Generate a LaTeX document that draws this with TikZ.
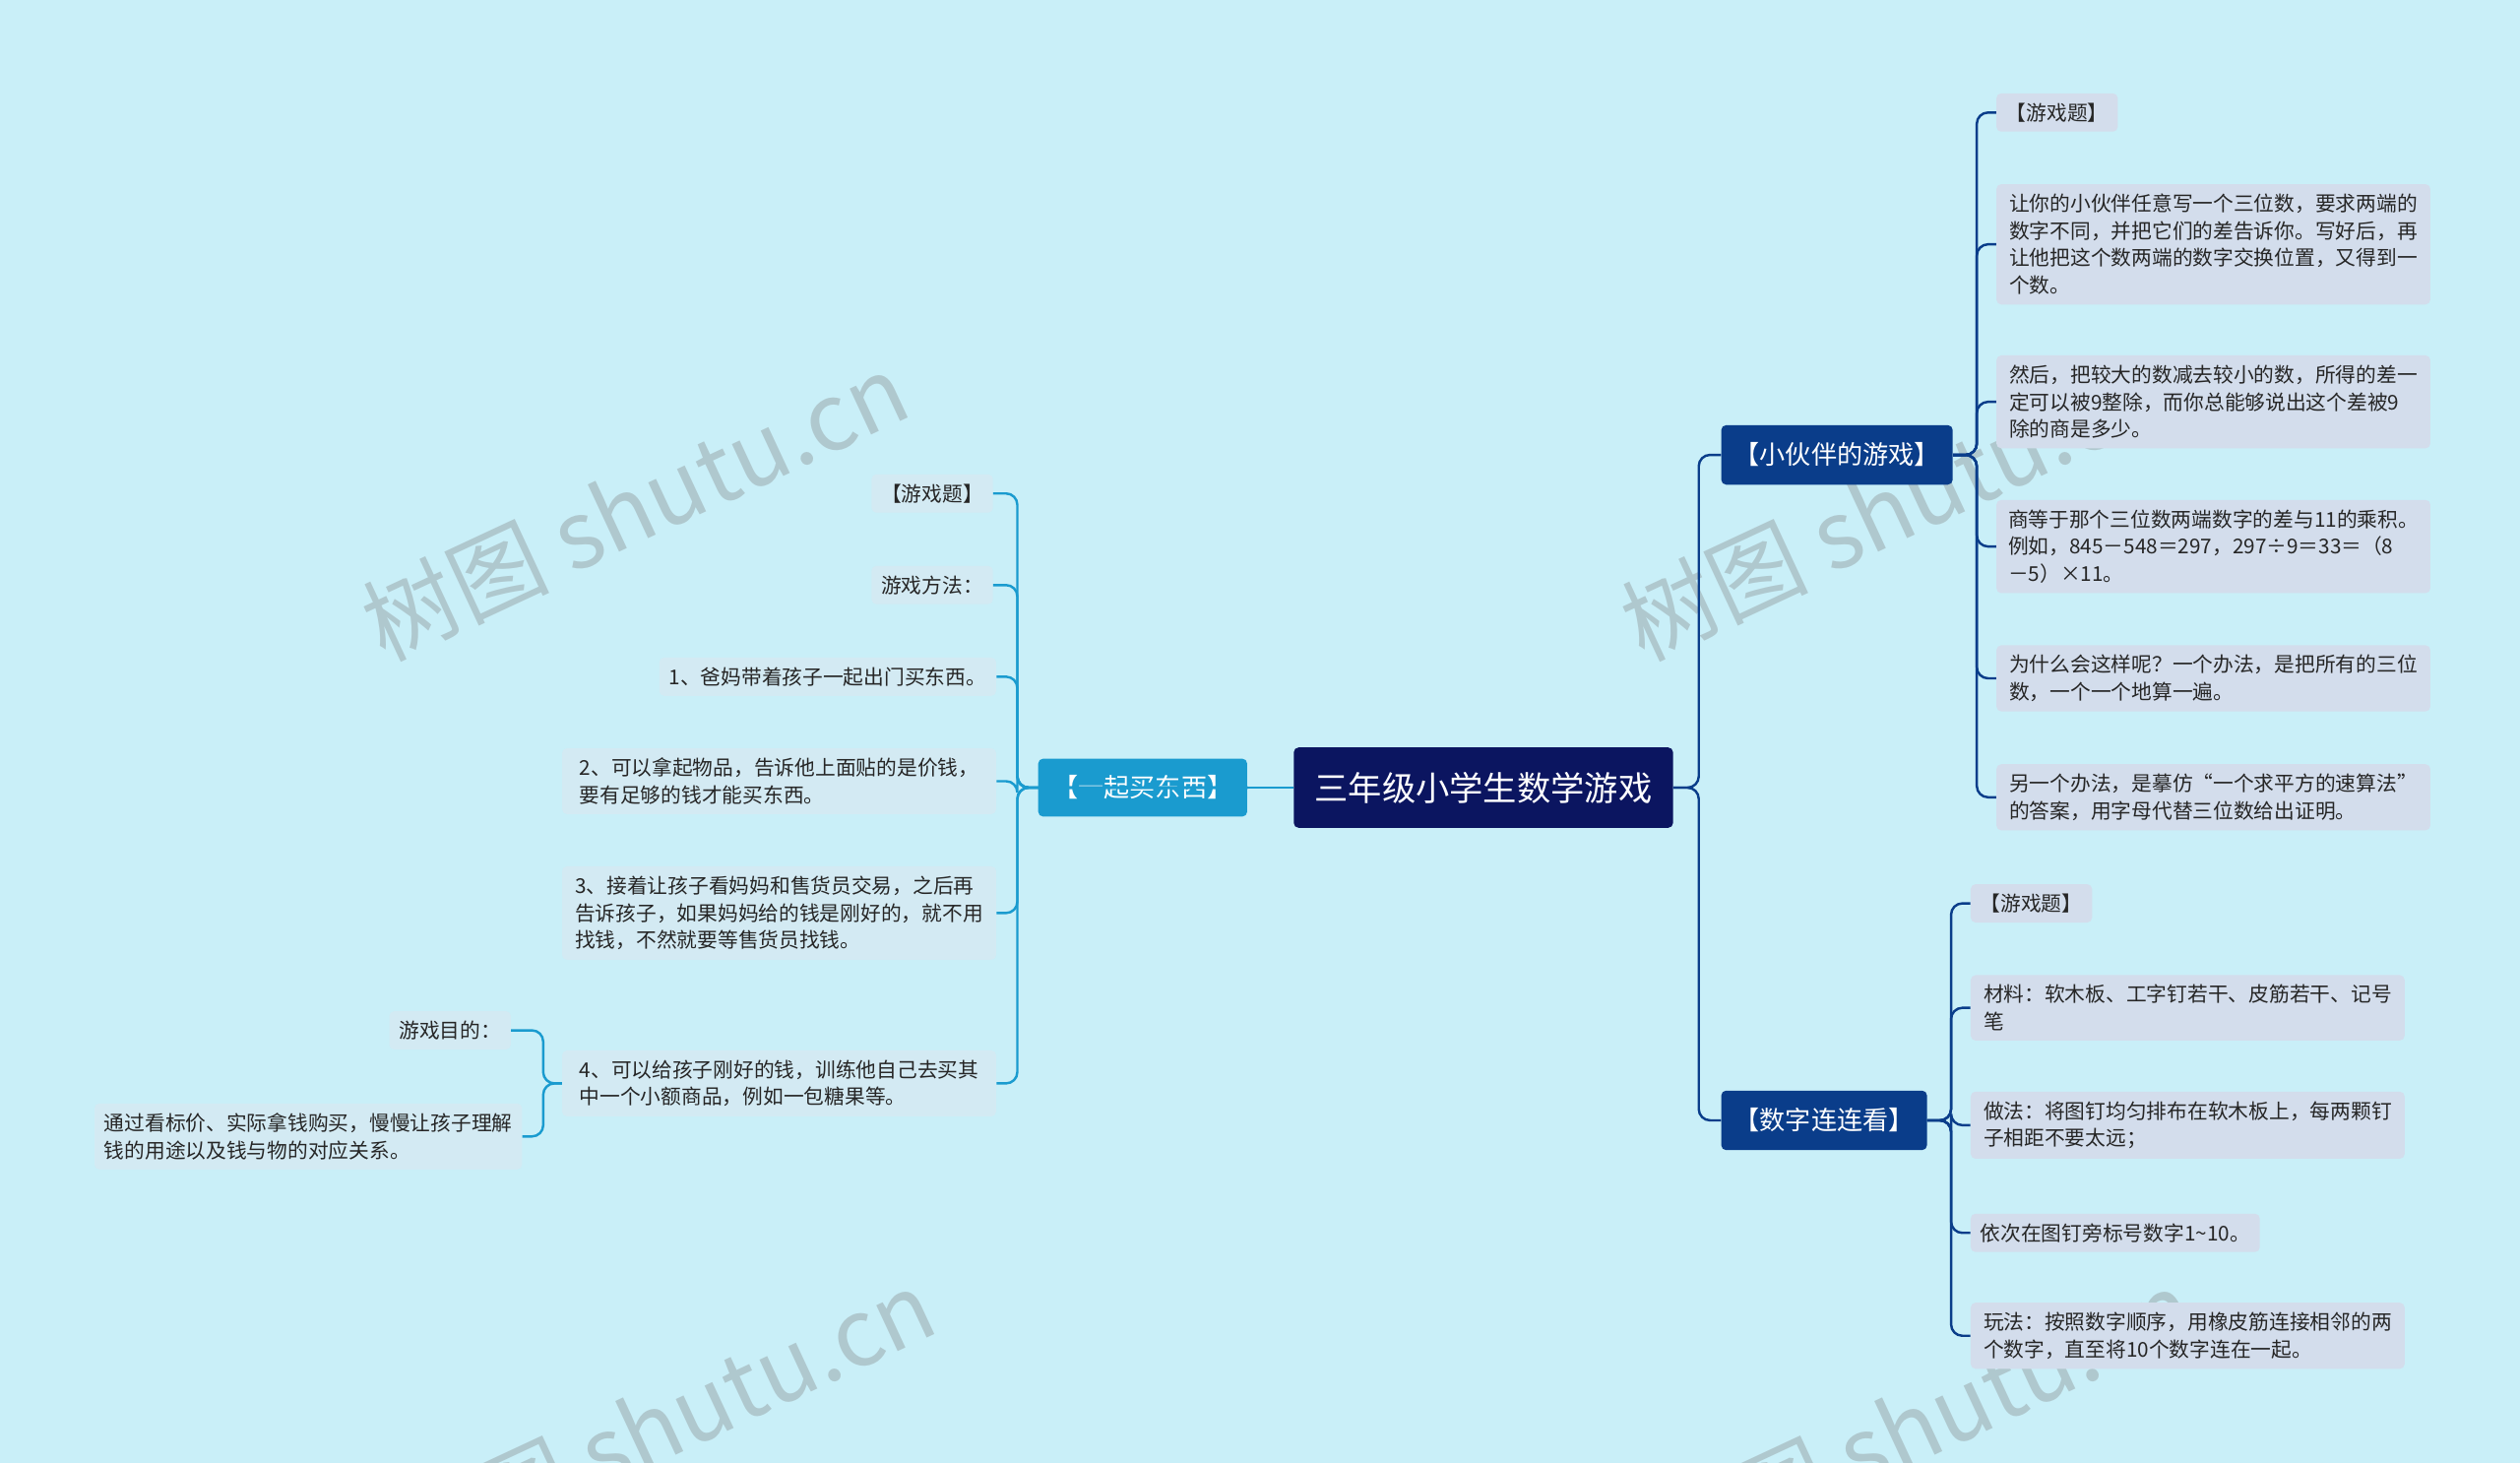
\documentclass[tikz,border=0pt]{standalone}
\usepackage{fontspec}
\setmainfont{Noto Sans CJK SC}
\usetikzlibrary{positioning}
\definecolor{bgc}{HTML}{C9EFF8}
\definecolor{rootc}{HTML}{0B1560}
\definecolor{leftc}{HTML}{1A9BCF}
\definecolor{rightc}{HTML}{0A3D8A}
\definecolor{leafl}{HTML}{D3EAF3}
\definecolor{leafr}{HTML}{D3DDEC}
\tikzset{
  rootbox/.style={fill=rootc,text=white,rounded corners=3pt,inner xsep=13pt,minimum height=50pt,font=\fontsize{21}{24}\selectfont},
  branchl/.style={fill=leftc,text=white,rounded corners=3pt,inner xsep=9pt,minimum height=36pt,font=\fontsize{16}{19}\selectfont},
  branchr/.style={fill=rightc,text=white,rounded corners=3pt,inner xsep=8pt,minimum height=37pt,font=\fontsize{16}{19}\selectfont},
  leafbox/.style={rounded corners=3pt,inner xsep=6pt,inner ysep=6pt,align=left,text=black!85,font=\fontsize{12.7}{17}\selectfont},
  lleaf/.style={leafbox,fill=leafl,anchor=east},
  rleaf/.style={leafbox,fill=leafr,anchor=west},
  linkl/.style={draw=leftc,line width=1.5pt,rounded corners=7pt},
  linkr/.style={draw=rightc,line width=1.5pt,rounded corners=7pt},
  wmark/.style={text=gray,opacity=0.35,rotate=25,font=\fontsize{58}{60}\selectfont}
}
\begin{document}
\begin{tikzpicture}[x=1pt,y=-1pt]
\useasboundingbox[fill=bgc] (0,0) rectangle (1568,910);
% watermarks
\node[wmark] (wm1) at (395,315) {树图 shutu.cn};
\node[wmark] (wm2) at (1178,315) {树图 shutu.cn};
\node[wmark] (wm3) at (412,885) {树图 shutu.cn};
\node[wmark] (wm4) at (1195,885) {树图 shutu.cn};
% root and branches
\node[rootbox] (root) at (923,490) {三年级小学生数学游戏};
\node[branchl] (b1) at (711,490) {【一起买东西】};
\node[branchr] (b2) at (1143,283) {【小伙伴的游戏】};
\node[branchr] (b3) at (1135,697) {【数字连连看】};
\draw[linkl] (root.west) -- (b1.east);
\draw[linkr] (root.east) -- (1057,490) |- (b2.west);
\draw[linkr] (root.east) -- (1057,490) |- (b3.west);
% left leaves
\node[lleaf] (l1) at (618,307) {【游戏题】};
\node[lleaf] (l2) at (618,364) {游戏方法：};
\node[lleaf] (l3) at (620,421) {1、爸妈带着孩子一起出门买东西。};
\node[lleaf,minimum width=270pt] (l4) at (620,486) {2、可以拿起物品，告诉他上面贴的是价钱，\\要有足够的钱才能买东西。};
\node[lleaf,minimum width=270pt] (l5) at (620,568) {3、接着让孩子看妈妈和售货员交易，之后再\\告诉孩子，如果妈妈给的钱是刚好的，就不用\\找钱，不然就要等售货员找钱。};
\node[lleaf,minimum width=270pt] (l6) at (620,674) {4、可以给孩子刚好的钱，训练他自己去买其\\中一个小额商品，例如一包糖果等。};
\foreach \n in {l1,l2,l3,l4,l5,l6}
  \draw[linkl] (b1.east) -- (633,490) |- (\n.east);
\node[lleaf] (m1) at (318,641) {游戏目的：};
\node[lleaf] (m2) at (325,707) {通过看标价、实际拿钱购买，慢慢让孩子理解\\钱的用途以及钱与物的对应关系。};
\foreach \n in {m1,m2}
  \draw[linkl] (l6.west) -- (338,674) |- (\n.east);
% right leaves, first group
\node[rleaf] (r1) at (1242,70) {【游戏题】};
\node[rleaf,minimum width=270pt] (r2) at (1242,152) {让你的小伙伴任意写一个三位数，要求两端的\\数字不同，并把它们的差告诉你。写好后，再\\让他把这个数两端的数字交换位置，又得到一\\个数。};
\node[rleaf,minimum width=270pt] (r3) at (1242,250) {然后，把较大的数减去较小的数，所得的差一\\定可以被9整除，而你总能够说出这个差被9\\除的商是多少。};
\node[rleaf,minimum width=270pt] (r4) at (1242,340) {商等于那个三位数两端数字的差与11的乘积。\\例如，845－548＝297，297÷9＝33＝（8\\－5）×11。};
\node[rleaf,minimum width=270pt] (r5) at (1242,422) {为什么会这样呢？一个办法，是把所有的三位\\数，一个一个地算一遍。};
\node[rleaf,minimum width=270pt] (r6) at (1242,496) {另一个办法，是摹仿“一个求平方的速算法”\\的答案，用字母代替三位数给出证明。};
\foreach \n in {r1,r2,r3,r4,r5,r6}
  \draw[linkr] (b2.east) -- (1230,283) |- (\n.west);
% right leaves, second group
\node[rleaf] (s1) at (1226,562) {【游戏题】};
\node[rleaf,minimum width=270pt] (s2) at (1226,627) {材料：软木板、工字钉若干、皮筋若干、记号\\笔};
\node[rleaf,minimum width=270pt] (s3) at (1226,700) {做法：将图钉均匀排布在软木板上，每两颗钉\\子相距不要太远；};
\node[rleaf] (s4) at (1226,767) {依次在图钉旁标号数字1\textasciitilde10。};
\node[rleaf,minimum width=270pt] (s5) at (1226,831) {玩法：按照数字顺序，用橡皮筋连接相邻的两\\个数字，直至将10个数字连在一起。};
\foreach \n in {s1,s2,s3,s4,s5}
  \draw[linkr] (b3.east) -- (1214,697) |- (\n.west);
\end{tikzpicture}
\end{document}
